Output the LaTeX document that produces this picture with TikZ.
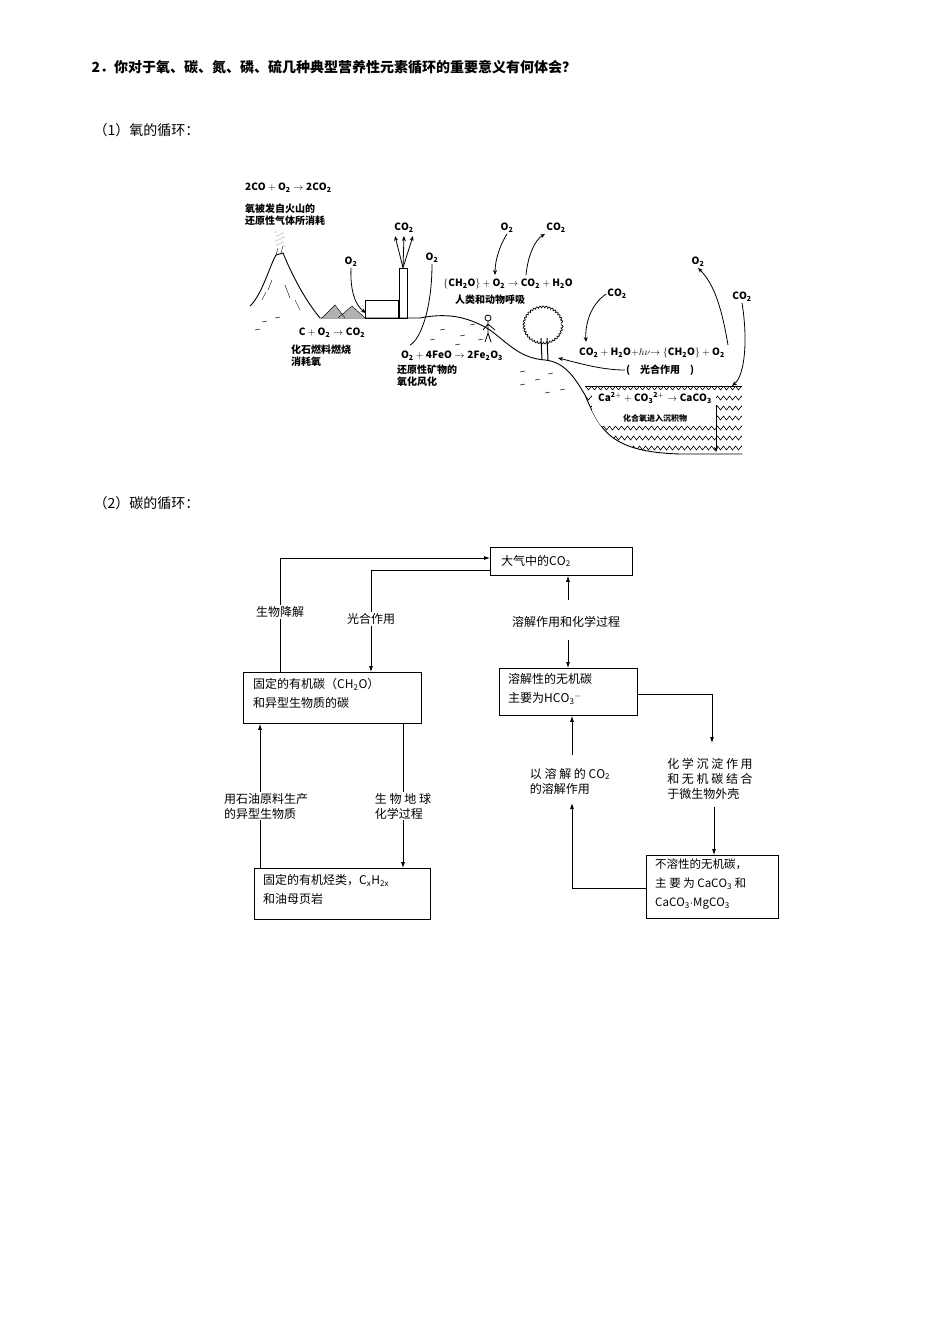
\documentclass[tikz,border=0pt]{standalone}
\usepackage{fontspec}
\setmainfont{Noto Sans CJK SC}
\usetikzlibrary{arrows.meta,decorations.pathmorphing}
\begin{document}
\begin{tikzpicture}[x=1pt,y=-1pt,
  head/.style={anchor=west,font=\fontsize{14}{16}\selectfont},
  box/.style={draw,thick,inner sep=0pt},
  lbl/.style={font=\fontsize{12}{15}\selectfont,align=left,fill=white,inner sep=1pt},
  ol/.style={font=\fontsize{10}{12}\selectfont\bfseries,inner sep=1pt},
  ar/.style={-{Latex[length=6pt,width=4pt]},thick},
  oa/.style={-{Stealth[length=5pt,width=4pt]},line width=0.8pt}]
\useasboundingbox (0,0) rectangle (950,1344);
\node[head,font=\fontsize{14}{16}\selectfont\bfseries] (t) at (88,67) {2．你对于氧、碳、氮、磷、硫几种典型营养性元素循环的重要意义有何体会？};
\node[head] (t1) at (90,130) {（1）氧的循环：};
\node[head] (t2) at (90,503) {（2）碳的循环：};

% ---------- oxygen cycle illustration ----------
\node[ol,anchor=west] (e1) at (244,188) {$\mathbf{2CO+O_2\rightarrow 2CO_2}$};
\node[ol,anchor=north west,align=left] (v1) at (244,203) {氧被发自火山的\\还原性气体所消耗};
% ground
\draw[line width=0.9pt] (250,306) .. controls (262,295) and (270,265) .. (276,255)
  -- (283,253) .. controls (292,275) and (305,300) .. (320,318)
  -- (420,318) .. controls (450,312) and (470,318) .. (490,330)
  .. controls (510,345) and (520,358) .. (545,360)
  .. controls (565,362) and (575,378) .. (585,395)
  .. controls (600,430) and (610,452) .. (680,454) -- (742,454);
\draw (276,255) -- (278,248) (281,253) -- (283,246);
\foreach \i in {0,...,14}{\fill[gray] ({276+mod(\i*7,9)},{232+\i}) circle (0.6);}
\draw (268,290) -- (272,280) (285,285) -- (290,298) (262,300) -- (266,292) (295,300) -- (300,310);
% speckles on ground
\foreach \x/\y in {262/322,275/318,255/330,440/330,460/336,470/325,430/340,520/372,535/380,548/374,560/390,545/393,520/385,478/340,455/345}{
  \draw[line width=0.5pt] (\x,\y) -- ++(5,-1);}
% piles
\draw[fill=gray!60] (322,318) -- (335,305) -- (345,318) (338,318) -- (352,306) -- (365,318);
% building and chimney
\node[box,thin,minimum width=33pt,minimum height=18pt,anchor=south west] (bld) at (365,318) {};
\node[box,thin,minimum width=8pt,minimum height=50pt,anchor=south] (chim) at (403,318) {};
\node[ol] (co2a) at (404,228) {$\mathbf{CO_2}$};
\draw[oa] (chim.north) -- (395,236);
\draw[oa] (chim.north) -- (404,236);
\draw[oa] (chim.north) -- (413,236);
\node[ol] (o2a) at (351,262) {$\mathbf{O_2}$};
\coordinate (o2ae) at (366,313);
\draw[oa] (o2a.south) .. controls (350,290) and (355,305) .. (o2ae);
\node[ol] (e2) at (332,333) {$\mathbf{C+O_2\rightarrow CO_2}$};
\node[ol,anchor=north west,align=left] (f1) at (290,344) {化石燃料燃烧\\消耗氧};
\node[ol] (o2b) at (432,258) {$\mathbf{O_2}$};
\coordinate (o2be) at (410,345);
\draw[line width=0.8pt] (o2b.south) .. controls (432,310) and (420,340) .. (o2be);
\node[ol] (e3) at (452,356) {$\mathbf{O_2+4FeO\rightarrow 2Fe_2O_3}$};
\node[ol,anchor=north west,align=left] (f2) at (396,364) {还原性矿物的\\氧化风化};
% respiration
\node[ol] (o2c) at (507,228) {$\mathbf{O_2}$};
\node[ol] (co2c) at (556,228) {$\mathbf{CO_2}$};
\node[ol] (e4) at (508,284) {$\mathbf{\{CH_2O\}+O_2\rightarrow CO_2+H_2O}$};
\node[ol] (r1) at (490,300) {人类和动物呼吸};
\coordinate (o2ce) at (495,275);
\draw[oa] (o2c.south) .. controls (500,245) and (495,260) .. (o2ce);
\coordinate (co2cs) at (526,275);
\draw[oa] (co2cs) .. controls (528,255) and (535,240) .. (co2c.south west);
% person
\draw[line width=0.8pt] (488,318) circle (3);
\draw[line width=0.8pt] (488,321) -- (488,333) (488,333) -- (485,342) (488,333) -- (491,342) (488,324) -- (483,330) (488,324) -- (495,330);
% tree
\draw[decorate,decoration={bumps,segment length=6pt,amplitude=2pt},line width=0.7pt] (543,325) ellipse (18 and 17);
\draw[line width=1pt] (541,338) -- (542,360) (547,338) -- (548,360);
% photosynthesis
\node[ol] (co2d) at (617,294) {$\mathbf{CO_2}$};
\coordinate (co2de) at (586,342);
\draw[oa] (co2d.west) .. controls (590,305) and (585,325) .. (co2de);
\node[ol] (e5) at (652,353) {$\mathbf{CO_2+H_2O+}h\nu\mathbf{\rightarrow\{CH_2O\}+O_2}$};
\node[ol] (p1) at (660,370) {(\quad 光合作用\quad )};
\coordinate (treeE) at (558,358);
\draw[oa] (p1.west) .. controls (600,370) and (575,362) .. (treeE);
\node[ol] (o2d) at (698,262) {$\mathbf{O_2}$};
\coordinate (o2ds) at (728,345);
\draw[oa] (o2ds) .. controls (722,310) and (715,285) .. (o2d.south);
\node[ol] (co2e) at (742,297) {$\mathbf{CO_2}$};
\coordinate (co2ee) at (732,386);
\draw[oa] (co2e.south) .. controls (748,340) and (745,375) .. (co2ee);
% water basin
\begin{scope}
\clip (585,386) -- (742,386) -- (742,454) -- (680,454) .. controls (610,452) and (600,430) .. (585,395) -- cycle;
\foreach \y in {388,398,...,450}{
  \draw[decorate,decoration={zigzag,segment length=6pt,amplitude=2pt},line width=0.6pt] (560,\y) -- (745,\y);}
\fill[white] (592,390) rectangle (716,426);
\end{scope}
\draw[line width=0.8pt] (585,386) -- (742,386);
\node[ol] (e6) at (655,398) {$\mathbf{Ca^{2+}+CO_3{}^{2+}\rightarrow CaCO_3}$};
\node[ol,font=\fontsize{8}{10}\selectfont\bfseries] (s1) at (655,418) {化合氧进入沉积物};
\coordinate (sedE) at (716,452);
\draw[oa] (716,405) -- (sedE);

% ---------- carbon cycle ----------
\node[box,minimum width=142pt,minimum height=28pt,anchor=north west] (atm) at (490,547) {};
\node[lbl,anchor=west,fill=none] at (500,561) {大气中的$\mathrm{CO_2}$};
\node[box,minimum width=178pt,minimum height=51pt,anchor=north west] (org) at (243,672) {};
\node[lbl,anchor=north west,fill=none,font=\fontsize{12}{19}\selectfont] at (252,677) {固定的有机碳（$\mathrm{CH_2O}$）\\和异型生物质的碳};
\node[box,minimum width=176pt,minimum height=51pt,anchor=north west] (oil) at (254,868) {};
\node[lbl,anchor=north west,fill=none,font=\fontsize{12}{19}\selectfont] at (262,873) {固定的有机烃类，$\mathrm{C_xH_{2x}}$\\和油母页岩};
\node[box,minimum width=138pt,minimum height=47pt,anchor=north west] (dic) at (499,668) {};
\node[lbl,anchor=north west,fill=none,font=\fontsize{12}{19}\selectfont] at (507,672) {溶解性的无机碳\\主要为$\mathrm{HCO_3{}^-}$};
\node[box,minimum width=132pt,minimum height=63pt,anchor=north west] (ins) at (646,855) {};
\node[lbl,anchor=north west,fill=none,font=\fontsize{11.5}{19}\selectfont] at (654,858) {不溶性的无机碳，\\主 要 为 $\mathrm{CaCO_3}$ 和\\$\mathrm{CaCO_3{\cdot}MgCO_3}$};

\coordinate (c1) at (280,558);
\coordinate (c2) at (371,570);
\draw[ar] (org.north -| c1) -- (c1) -- (atm.west |- c1);
\node[lbl] (l1) at (280,612) {生物降解};
\draw[ar] (atm.west |- c2) -- (c2) -- (org.north -| c2);
\node[lbl] (l2) at (371,619) {光合作用};
\draw[ar] (org.south -| 403,0) -- (oil.north -| 403,0);
\node[lbl] (l3) at (403,806) {生 物 地 球\\化学过程};
\draw[ar] (oil.north -| 260,0) -- (org.south -| 260,0);
\node[lbl] (l4) at (266,806) {用石油原料生产\\的异型生物质};
\draw[ar] (568,600) -- (atm.south -| 568,0);
\draw[ar] (568,640) -- (dic.north -| 568,0);
\node[lbl] (l5) at (566,622) {溶解作用和化学过程};
\coordinate (c3) at (712,694);
\draw[ar] (dic.east |- c3) -- (c3) -- (712,743);
\node[lbl] (l6) at (710,779) {化 学 沉 淀 作 用\\和 无 机 碳 结 合\\于微生物外壳};
\draw[ar] (714,807) -- (ins.north -| 714,0);
\coordinate (c4) at (572,888);
\draw[ar] (ins.west |- c4) -- (c4) -- (572,803);
\draw[ar] (572,755) -- (dic.south -| 572,0);
\node[lbl] (l7) at (570,781) {以 溶 解 的 $\mathrm{CO_2}$\\的溶解作用};
\end{tikzpicture}
\end{document}
